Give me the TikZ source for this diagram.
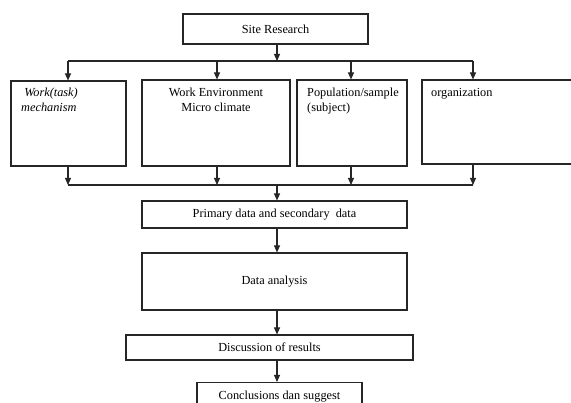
\documentclass[tikz,border=0pt]{standalone}
\usepackage{fontspec}
\setmainfont{Liberation Serif}
\usetikzlibrary{arrows.meta,calc}
\begin{document}
\begin{tikzpicture}[x=1pt,y=-1pt,
  box/.style={draw=black!85,line width=1.1pt,rectangle,inner sep=0pt},
  txt/.style={inner sep=0pt,font=\fontsize{12.3}{15}\selectfont,align=left},
  arr/.style={draw=black!85,line width=1.1pt,-{Triangle[length=7pt,width=6pt]}},
  ln/.style={draw=black!85,line width=1.1pt}]
\useasboundingbox (0,0) rectangle (571,403);
\clip (0,0) rectangle (571,403);
\node[box,minimum width=185pt,minimum height=30pt] (site) at (275.5,29) {};
\node[txt] (tsite) at (275.5,29) {Site Research};
\node[box,minimum width=115pt,minimum height=85pt] (b1) at (68.5,123.5) {};
\node[box,minimum width=148pt,minimum height=86pt] (b2) at (216,123) {};
\node[box,minimum width=110pt,minimum height=86pt] (b3) at (352,123) {};
\node[box,minimum width=178pt,minimum height=84pt] (b4) at (511,122) {};
\node[txt,anchor=north west] (t1) at (21,88) {\itshape\ Work(task)\\\itshape mechanism};
\node[txt,anchor=north,align=center] (t2) at (216,88) {Work Environment\\Micro climate};
\node[txt,anchor=north west] (t3) at (307,88) {Population/sample\\(subject)};
\node[txt,anchor=north west] (t4) at (431,88) {organization};
\node[box,minimum width=265pt,minimum height=27pt] (prim) at (274.5,214.5) {};
\node[txt] (tprim) at (274.5,214.5) {Primary data and secondary\ \ data};
\node[box,minimum width=265pt,minimum height=57pt] (ana) at (274.5,281.5) {};
\node[txt] (tana) at (274.5,281.5) {Data analysis};
\node[box,minimum width=287pt,minimum height=25pt] (disc) at (269.5,347.5) {};
\node[txt] (tdisc) at (269.5,347.5) {Discussion of results};
\node[box,minimum width=165pt,minimum height=40pt,anchor=north] (conc) at (279.5,382) {};
\node[txt] (tconc) at (279.5,397) {Conclusions dan suggest};
% top distribution
\coordinate (j1) at (277,61);
\coordinate (l1) at (68,61);
\coordinate (r1) at (473,61);
\draw[arr] (site.south -| j1) -- (j1);
\draw[ln] (l1) -- (r1);
\draw[arr] (l1) -- (l1 |- b1.north);
\draw[arr] (217,61) -- (217,0 |- b2.north);
\draw[arr] (351,61) -- (351,0 |- b3.north);
\draw[arr] (r1) -- (r1 |- b4.north);
% bottom collection
\coordinate (j2) at (277,185);
\coordinate (l2) at (68,185);
\coordinate (r2) at (473,185);
\draw[arr] (l2 |- b1.south) -- (l2);
\draw[arr] (217,0 |- b2.south) -- (217,185);
\draw[arr] (351,0 |- b3.south) -- (351,185);
\draw[arr] (r2 |- b4.south) -- (r2);
\draw[ln] (l2) -- (r2);
\draw[arr] (j2) -- (j2 |- prim.north);
\draw[arr] (prim.south -| j2) -- (ana.north -| j2);
\draw[arr] (ana.south -| j2) -- (disc.north -| j2);
\draw[arr] (disc.south -| j2) -- (conc.north -| j2);
\end{tikzpicture}
\end{document}
